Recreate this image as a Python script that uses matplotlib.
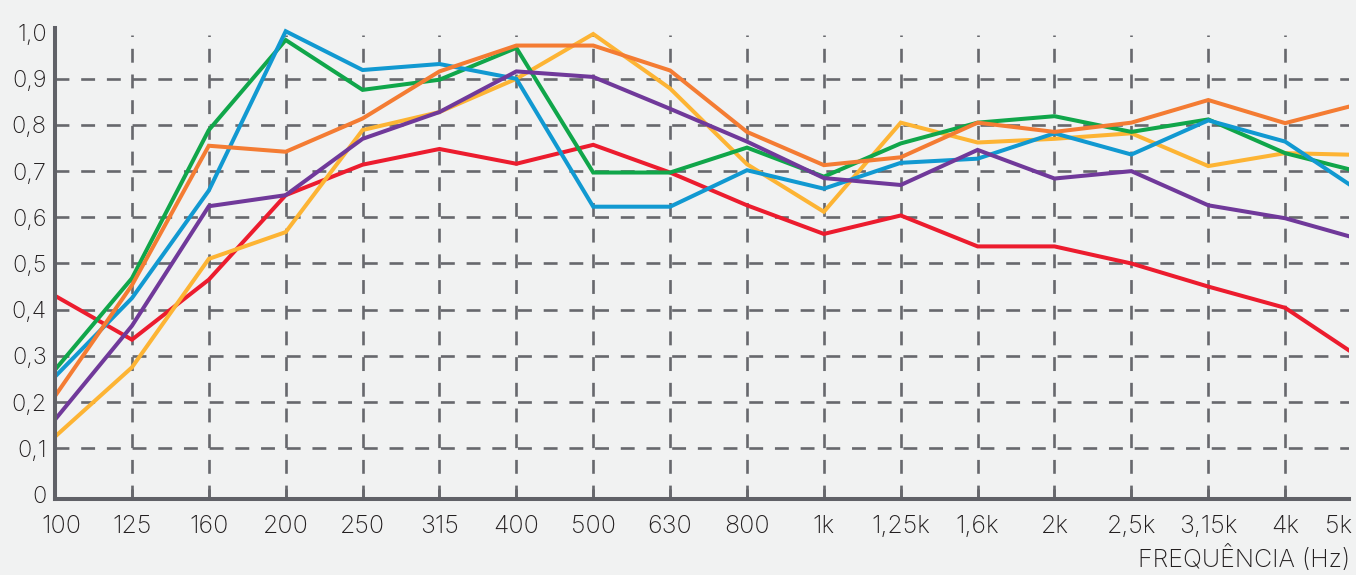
import matplotlib
matplotlib.use("Agg")
import matplotlib.pyplot as plt
import numpy as np

plt.rcParams['font.family'] = ['Inter', 'DejaVu Sans']
plt.rcParams['lines.scale_dashes'] = False

freq_labels = ["100", "125", "160", "200", "250", "315", "400", "500", "630", "800",
               "1k", "1,25k", "1,6k", "2k", "2,5k", "3,15k", "4k", "5k"]

red    = [0.43, 0.335, 0.465, 0.648, 0.714, 0.748, 0.716, 0.757, 0.697, 0.626,
          0.564, 0.604, 0.537, 0.537, 0.50, 0.45, 0.404, 0.293]
yellow = [0.125, 0.275, 0.51, 0.568, 0.789, 0.828, 0.90, 0.997, 0.879, 0.715,
          0.612, 0.805, 0.762, 0.77, 0.782, 0.711, 0.739, 0.735]
green  = [0.27, 0.468, 0.789, 0.984, 0.876, 0.898, 0.967, 0.697, 0.697, 0.751,
          0.688, 0.76, 0.805, 0.819, 0.785, 0.812, 0.739, 0.697]
blue   = [0.255, 0.425, 0.658, 1.003, 0.919, 0.932, 0.90, 0.623, 0.623, 0.702,
          0.662, 0.718, 0.727, 0.782, 0.736, 0.81, 0.764, 0.653]
orange = [0.213, 0.453, 0.755, 0.742, 0.814, 0.916, 0.972, 0.972, 0.918, 0.785,
          0.713, 0.73, 0.805, 0.785, 0.805, 0.854, 0.804, 0.847]
purple = [0.162, 0.365, 0.624, 0.648, 0.77, 0.828, 0.916, 0.904, 0.835, 0.764,
          0.685, 0.67, 0.746, 0.684, 0.70, 0.626, 0.598, 0.551]

series = [
    (red, "#ec1c2e"),
    (yellow, "#fdb434"),
    (green, "#10a64a"),
    (blue, "#1199d1"),
    (orange, "#f47c33"),
    (purple, "#70399a"),
]

y_ticks = [0, 0.1, 0.2, 0.3, 0.4, 0.5, 0.6, 0.7, 0.8, 0.9, 1.0]
y_labels = ["0", "0,1", "0,2", "0,3", "0,4", "0,5", "0,6", "0,7", "0,8", "0,9", "1,0"]

bg = "#f1f2f2"
gridc = "#67686d"
textc = "#231f20"
fs = 18
fw = 'light'

fig = plt.figure(figsize=(13.56, 5.75), dpi=100, facecolor=bg)
ax = fig.add_axes([0.0406, 0.1322, 0.9542, 0.8191])
ax.set_facecolor(bg)

x = np.arange(len(freq_labels))

ax.set_xlim(0, 16.83)
ax.set_ylim(-0.01, 1.01)

# grid
for yv in y_ticks[1:-1]:
    ax.axhline(yv, color=gridc, lw=1.9, dashes=(10, 8.5), zorder=1)
ax.vlines(x[1:17], -0.01, 0.995, color=gridc, lw=1.9, linestyles=(0, (10, 8.5)), zorder=1)

for vals, col in series:
    ax.plot(x, vals, color=col, lw=2.9, solid_joinstyle='miter', zorder=3, clip_on=True)

for s in ["top", "right"]:
    ax.spines[s].set_visible(False)
for s in ["left", "bottom"]:
    ax.spines[s].set_color("#606167")
    ax.spines[s].set_linewidth(2.9)
    ax.spines[s].set_zorder(4)

ax.set_yticks(y_ticks)
ax.set_yticklabels(y_labels, fontsize=17, color=textc, fontweight=fw)
ax.tick_params(axis='y', length=0, pad=6)

ax.set_xticks(x[:17])
ax.set_xticklabels([])
ax.tick_params(axis='x', direction='in', length=7, width=2, color=gridc)

trans = ax.get_xaxis_transform()
for i, lab in enumerate(freq_labels):
    xi = i
    ha = 'center'
    if i == 0:
        xi = 0.08
    if i == len(freq_labels) - 1:
        ha = 'right'
        xi = 16.87
    ax.text(xi, -0.034, lab, transform=trans, ha=ha, va='top', fontweight=fw,
            fontsize=fs, color=textc, clip_on=False)

fig.text(0.9956, 0.006, "FREQUÊNCIA (Hz)", ha='right', va='bottom',
         fontsize=fs, color=textc, fontweight=fw)

fig.savefig("out.png", dpi=100, facecolor=bg)
